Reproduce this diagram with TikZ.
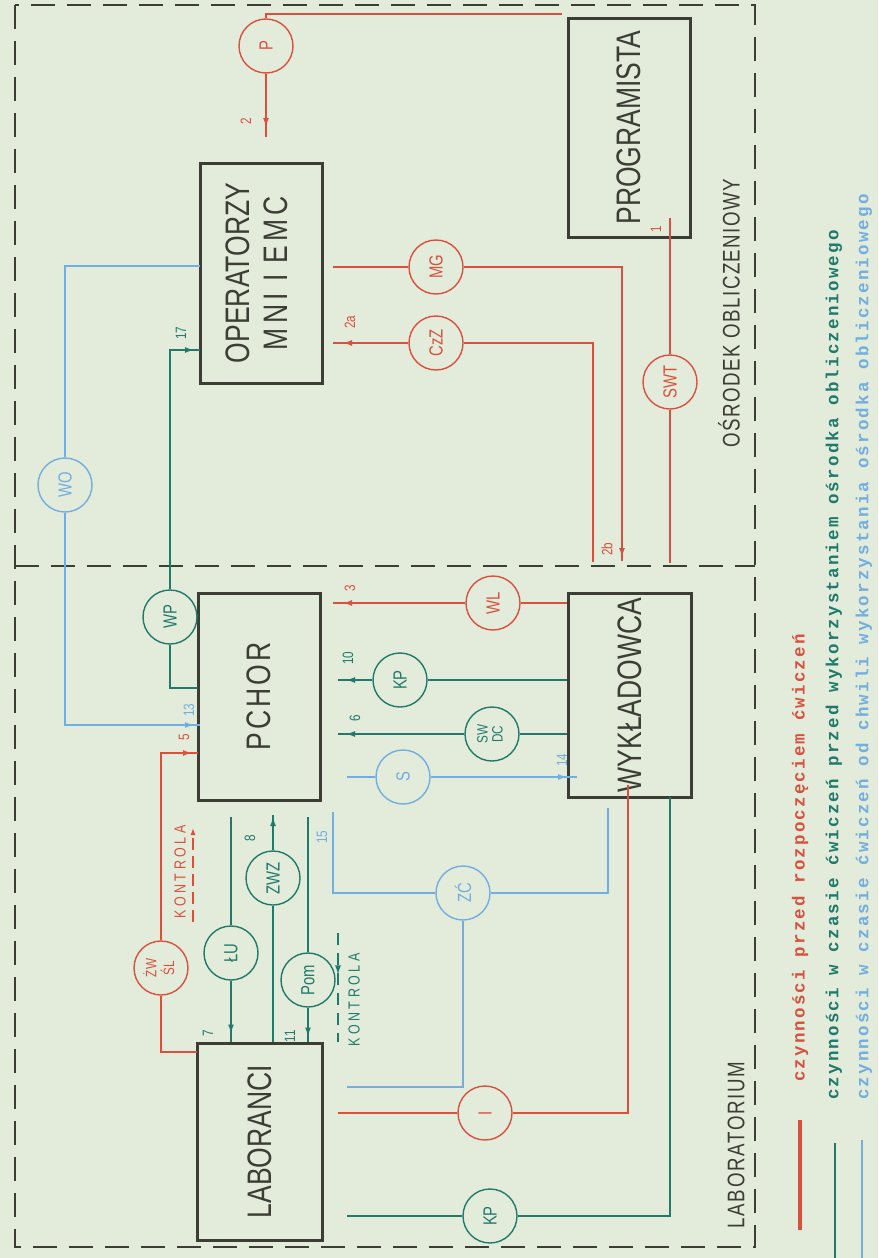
\documentclass[tikz,border=0pt]{standalone}
\usepackage{fontspec}
\setmainfont{Liberation Sans}
\newfontfamily\cf[FakeStretch=0.78]{Liberation Sans}
\newfontfamily\tw{Liberation Mono}
\usetikzlibrary{arrows.meta,decorations.markings}
\definecolor{bg}{HTML}{E3EBDA}
\definecolor{ink}{HTML}{3C3E36}
\definecolor{rr}{HTML}{D9503F}
\definecolor{tt}{HTML}{1F7A6C}
\definecolor{bb}{HTML}{72AEE0}
\newcommand{\rotR}[1]{\rotatebox{90}{#1}}
\begin{document}
\begin{tikzpicture}[x=1pt,y=-1pt,
 box/.style={draw=ink, line width=3pt, inner sep=0pt, text=ink, font=\cf\fontsize{34}{38}\selectfont},
 circ/.style={circle, draw=#1, line width=1.4pt, minimum size=54pt, inner sep=0pt, text=#1, font=\cf\fontsize{19}{20}\selectfont},
 circtwo/.style={circle, draw=#1, line width=1.4pt, minimum size=54pt, inner sep=0pt, text=#1, font=\cf\fontsize{15}{15}\selectfont},
 ln/.style={draw=#1, line width=1.6pt},
 am/.style={postaction={decorate}, decoration={markings, mark=at position #1 with {\arrow{Latex[length=9pt,width=6pt]}}}},
 num/.style={text=#1, font=\cf\fontsize{15}{16}\selectfont, rotate=90, inner sep=0pt},
 kontr/.style={text=#1, font=\cf\fontsize{16}{16}\addfontfeature{LetterSpace=22}\selectfont, rotate=90, inner sep=0pt},
 border/.style={draw=ink, line width=2.6pt, dash pattern=on 24pt off 12pt},
 legtext/.style={text=#1, font=\tw\bfseries\fontsize{17.5}{20}\addfontfeature{LetterSpace=12.4}\selectfont, rotate=90, anchor=west, inner sep=0pt},
]
\fill[bg] (0,0) rectangle (878,1258);
\useasboundingbox (0,0) rectangle (878,1258);

% borders
\draw[border] (15,5) rectangle (755,1247);
\draw[border] (15,566) -- (755,566);

% boxes
\node[box, minimum width=122pt, minimum height=220pt] (oper) at (261,273)
  {\rotR{\begin{tabular}{@{}c@{}}OPERATORZY\\ {\addfontfeature{LetterSpace=12}MNI I EMC}\end{tabular}}};
\node[box, minimum width=122pt, minimum height=219pt] (prog) at (629,127.5) {\rotR{PROGRAMISTA}};
\node[box, minimum width=122pt, minimum height=207pt] (pchor) at (259,696.5) {\rotR{\addfontfeature{LetterSpace=9}PCHOR}};
\node[box, minimum width=123pt, minimum height=204pt] (wyk) at (629.5,695) {\rotR{WYKŁADOWCA}};
\node[box, minimum width=125pt, minimum height=197pt] (lab) at (259.5,1141.5) {\rotR{LABORANCI}};

% area labels
\node[text=ink, font=\cf\fontsize{24}{24}\addfontfeature{LetterSpace=6}\selectfont, rotate=90] (osr) at (729,313) {OŚRODEK OBLICZENIOWY};
\node[text=ink, font=\cf\fontsize{24}{24}\addfontfeature{LetterSpace=7}\selectfont, rotate=90] (labo) at (736,1145) {LABORATORIUM};

% circles
\node[circ=rr] (cP) at (266,46) {\rotR{P}};
\node[circ=rr] (cMG) at (436,267) {\rotR{MG}};
\node[circ=rr] (cCZ) at (436,343) {\rotR{CzZ}};
\node[circ=rr] (cSWT) at (670,382) {\rotR{SWT}};
\node[circ=rr] (cWL) at (493,603) {\rotR{WL}};
\node[circtwo=rr] (cZW) at (161,968) {\rotR{\begin{tabular}{@{}c@{}}ŻW\\ŚL\end{tabular}}};
\node[circ=rr] (cI) at (485,1113) {\rotR{I}};
\node[circ=bb] (cWO) at (65,485) {\rotR{WO}};
\node[circ=bb] (cS) at (403,777) {\rotR{S}};
\node[circ=bb] (cZC) at (463,893) {\rotR{ZĆ}};
\node[circ=tt] (cWP) at (170,617) {\rotR{WP}};
\node[circ=tt] (cKP) at (400,680) {\rotR{KP}};
\node[circtwo=tt] (cSW) at (492,734) {\rotR{\begin{tabular}{@{}c@{}}SW\\DC\end{tabular}}};
\node[circ=tt] (cLU) at (231,953) {\rotR{ŁU}};
\node[circ=tt] (cZWZ) at (273,878) {\rotR{ZWZ}};
\node[circ=tt] (cPom) at (308,980) {\rotR{Pom}};
\node[circ=tt] (cKP2) at (490,1216) {\rotR{KP}};

% ---- red connectors
\coordinate (tR) at (562,14);
\draw[ln=rr] (tR) -| (cP.north);
\coordinate (p2) at (266,137);
\draw[ln=rr, am=-10pt] (cP.south) -- (p2);
\node[num=rr] (l2) at (246,121) {2};

\coordinate (prB) at (670,218);
\draw[ln=rr] (prB) -- (cSWT.north);
\coordinate (swtE) at (670,563);
\draw[ln=rr] (cSWT.south) -- (swtE);
\node[num=rr] (l1) at (656,229) {1};

\coordinate (mgL) at (333,267);
\draw[ln=rr] (mgL) -- (cMG.west);
\coordinate (mgE) at (622,561);
\draw[ln=rr, am=-4pt] (cMG.east) -| (mgE);
\node[num=rr] (l2b) at (607,549) {2b};

\coordinate (czL) at (333,343);
\draw[ln=rr, am=-10pt] (cCZ.west) -- (czL);
\coordinate (czE) at (593,562);
\draw[ln=rr] (cCZ.east) -| (czE);
\node[num=rr] (l2a) at (350,322) {2a};

\coordinate (wlL) at (333,603);
\draw[ln=rr, am=-10pt] (cWL.west) -- (wlL);
\draw[ln=rr] (cWL.east) -- (cWL.east -| wyk.west);
\node[num=rr] (l3) at (350,588) {3};

\coordinate (labL) at (197,1052);
\draw[ln=rr] (labL) -| (cZW.south);
\coordinate (p5) at (198,753);
\draw[ln=rr, am=-6pt] (cZW.north) |- (p5);
\node[num=rr] (l5) at (184,737) {5};
\node[kontr=rr] (k1) at (180,872) {KONTROLA};
\coordinate (k1a) at (193,922);
\coordinate (k1b) at (193,828);
\draw[rr, line width=1.3pt, dash pattern=on 12pt off 6pt, -{Latex[length=7pt,width=5pt]}] (k1a) -- (k1b);

\coordinate (wykR) at (628,785);
\draw[ln=rr] (wykR) |- (cI.east);
\coordinate (iL) at (338,1113);
\draw[ln=rr] (cI.west) -- (iL);

% ---- teal connectors
\coordinate (pT) at (198,688);
\draw[ln=tt] (pT) -| (cWP.south);
\coordinate (opT) at (200,350);
\draw[ln=tt, am=-6pt] (cWP.north) |- (opT);
\node[num=tt] (l17) at (181,333) {17};

\coordinate (kpL) at (338,680);
\draw[ln=tt, am=-8pt] (cKP.west) -- (kpL);
\draw[ln=tt] (cKP.east) -- (cKP.east -| wyk.west);
\node[num=tt] (l10) at (348,658) {10};

\coordinate (swL) at (338,734);
\draw[ln=tt, am=-8pt] (cSW.west) -- (swL);
\draw[ln=tt] (cSW.east) -- (cSW.east -| wyk.west);
\node[num=tt] (l6) at (355,718) {6};

\coordinate (luT) at (231,817);
\draw[ln=tt] (luT) -- (cLU.north);
\draw[ln=tt, am=-8pt] (cLU.south) -- (cLU.south |- lab.north);
\node[num=tt] (l7) at (208,1033) {7};

\coordinate (zwT) at (273,815);
\draw[ln=tt, am=-2pt] (cZWZ.north) -- (zwT);
\draw[ln=tt] (cZWZ.south) -- (cZWZ.south |- lab.north);
\node[num=tt] (l8) at (250,838) {8};

\coordinate (pmT) at (308,817);
\draw[ln=tt] (pmT) -- (cPom.north);
\draw[ln=tt, am=-5pt] (cPom.south) -- (cPom.south |- lab.north);
\node[num=tt] (l11) at (290,1036) {11};
\node[kontr=tt] (k2) at (354,1000) {KONTROLA};
\coordinate (k2a) at (338,933);
\coordinate (k2b) at (338,1042);
\draw[tt, line width=1.3pt, dash pattern=on 12pt off 8pt, am=0.38] (k2a) -- (k2b);

\coordinate (kp2L) at (347,1216);
\draw[ln=tt] (kp2L) -- (cKP2.west);
\coordinate (wykT) at (670,797);
\draw[ln=tt] (cKP2.east) -| (wykT);

% ---- blue connectors
\coordinate (opB) at (200,266);
\draw[ln=bb] (opB) -| (cWO.north);
\coordinate (p13) at (200,725);
\draw[ln=bb, am=-6pt] (cWO.south) |- (p13);
\node[num=bb] (l13) at (189,710) {13};

\coordinate (sL) at (347,777);
\draw[ln=bb] (sL) -- (cS.west);
\coordinate (sR) at (577,777);
\draw[ln=bb, am=-10pt] (cS.east) -- (sR);
\node[num=bb] (l14) at (562,760) {14};

\coordinate (b15) at (333,812);
\draw[ln=bb] (b15) |- (cZC.west);
\coordinate (wykB) at (608,808);
\draw[ln=bb] (cZC.east) -| (wykB);
\coordinate (bL) at (347,1087);
\draw[ln=bb] (cZC.south) |- (bL);
\node[num=bb] (l15) at (322,837) {15};

% ---- legend
\coordinate (lr1) at (800,1120);
\coordinate (lr2) at (800,1230);
\draw[rr, line width=3.5pt] (lr1) -- (lr2);
\coordinate (lt1) at (835,1143);
\coordinate (lt2) at (835,1258);
\draw[tt, line width=1.3pt] (lt1) -- (lt2);
\coordinate (lb1) at (862,1140);
\coordinate (lb2) at (862,1258);
\draw[bb, line width=1.3pt] (lb1) -- (lb2);
\node[legtext=rr] (t1) at (800,1082) {czynności przed rozpoczęciem ćwiczeń};
\node[legtext=tt] (t2) at (834,1100) {czynności w czasie ćwiczeń przed wykorzystaniem ośrodka obliczeniowego};
\node[legtext=bb] (t3) at (864,1100) {czynności w czasie ćwiczeń od chwili wykorzystania ośrodka obliczeniowego};
\end{tikzpicture}
\end{document}
